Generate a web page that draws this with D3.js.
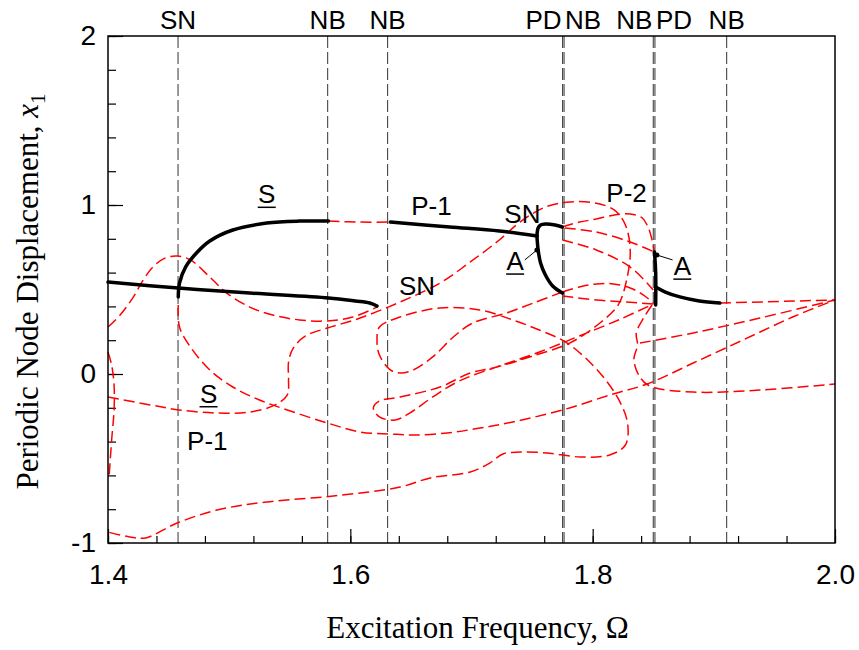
<!DOCTYPE html>
<html>
<head>
<meta charset="utf-8">
<script src="https://cdn.jsdelivr.net/npm/d3@7"></script>
<style>
  body { margin: 0; background: #fff; }
  .tick text { font-family: "Liberation Sans", Arial, sans-serif; font-size: 28px; fill: #000; }
  .lbl { font-family: "Liberation Sans", Arial, sans-serif; font-size: 26px; fill: #000; }
  .title { font-family: "Liberation Serif", "Times New Roman", serif; font-size: 31px; fill: #000; }
</style>
</head>
<body>
<div id="chart"></div>
<script>
// bifurcation lines along the top
const bifOmega = [1.4578, 1.5813, 1.6308, 1.7752, 1.7764, 1.8500, 1.8514, 1.9106];
const bifLabels = ["SN", "NB", "NB", "PD", "NB", "NB", "PD", "NB"];
const bifAnchor = ["middle", "middle", "middle", "end", "start", "end", "start", "middle"];

const xTicksMajor = [1.4, 1.6, 1.8, 2.0];
const yTicksMajor = [-1, 0, 1, 2];

// stable branches (solid black)
const stableLowP1 = [[1.400, 0.544], [1.458, 0.509], [1.517, 0.479], [1.582, 0.450], [1.604, 0.432], [1.616, 0.420], [1.622, 0.402]];
const stableS = [[1.458, 0.456], [1.459, 0.538], [1.464, 0.633], [1.473, 0.716], [1.484, 0.787], [1.503, 0.852], [1.531, 0.893], [1.558, 0.905], [1.582, 0.905]];
const stableP1 = [[1.633, 0.899], [1.682, 0.870], [1.723, 0.846], [1.754, 0.817]];
const stableHook = [[1.754, 0.817], [1.755, 0.864], [1.757, 0.882], [1.761, 0.888], [1.769, 0.882], [1.775, 0.870]];
const stableA1 = [[1.754, 0.817], [1.755, 0.734], [1.757, 0.657], [1.761, 0.586], [1.767, 0.521], [1.775, 0.479]];
const stableA2 = [[1.851, 0.722], [1.852, 0.600], [1.852, 0.408]];
const stableP1right = [[1.852, 0.515], [1.860, 0.485], [1.872, 0.456], [1.888, 0.432], [1.905, 0.420]];

// unstable branches (red dashed)
const unstHump = [[1.400, 0.278], [1.410, 0.349], [1.421, 0.456], [1.429, 0.556], [1.437, 0.633], [1.447, 0.686], [1.457, 0.698], [1.468, 0.675], [1.484, 0.574], [1.498, 0.479], [1.517, 0.396], [1.536, 0.349], [1.558, 0.320], [1.581, 0.314], [1.602, 0.337], [1.622, 0.396]];
const unstLowS = [[1.400, -0.136], [1.435, -0.183], [1.459, -0.213], [1.490, -0.231], [1.517, -0.225], [1.538, -0.183], [1.548, -0.124], [1.549, -0.036], [1.549, 0.071], [1.553, 0.154], [1.563, 0.225], [1.581, 0.272], [1.608, 0.331], [1.641, 0.426], [1.674, 0.538], [1.699, 0.663], [1.723, 0.793], [1.740, 0.899], [1.761, 0.988], [1.781, 1.018], [1.802, 1.012], [1.818, 0.970], [1.827, 0.882], [1.831, 0.734], [1.828, 0.556], [1.821, 0.408], [1.806, 0.302], [1.781, 0.183], [1.748, 0.101], [1.721, 0.041], [1.699, 0.006], [1.674, -0.077], [1.641, -0.136], [1.624, -0.160], [1.619, -0.201], [1.624, -0.254], [1.637, -0.272], [1.649, -0.231], [1.668, -0.136], [1.690, -0.041], [1.723, 0.047], [1.756, 0.130], [1.789, 0.225], [1.823, 0.325], [1.850, 0.414]];
const unstLoop = [[1.775, 0.485], [1.751, 0.420], [1.729, 0.361], [1.701, 0.302], [1.685, 0.219], [1.668, 0.101], [1.652, 0.024], [1.641, 0.006], [1.633, 0.024], [1.624, 0.112], [1.622, 0.201], [1.624, 0.278], [1.641, 0.337], [1.674, 0.391], [1.707, 0.379], [1.734, 0.320], [1.756, 0.260], [1.779, 0.183], [1.806, 0.006], [1.823, -0.172], [1.829, -0.302], [1.827, -0.420], [1.814, -0.479], [1.790, -0.491], [1.762, -0.467], [1.740, -0.462], [1.726, -0.473], [1.715, -0.527], [1.699, -0.580], [1.666, -0.615], [1.641, -0.669], [1.586, -0.722], [1.531, -0.757], [1.490, -0.805], [1.457, -0.882], [1.431, -0.970], [1.418, -0.964], [1.400, -0.935]];
const unstUpS = [[1.458, 0.408], [1.459, 0.278], [1.468, 0.160], [1.484, 0.024], [1.503, -0.077], [1.525, -0.154], [1.548, -0.213], [1.581, -0.290], [1.608, -0.343], [1.633, -0.355], [1.652, -0.361], [1.680, -0.349], [1.707, -0.320], [1.734, -0.284], [1.775, -0.213], [1.817, -0.118], [1.845, -0.059], [1.883, 0.065], [1.924, 0.201], [1.965, 0.337], [2.000, 0.438]];
const unstNB = [[1.582, 0.905], [1.608, 0.899], [1.633, 0.899]];
const unstRight = [[1.905, 0.420], [2.000, 0.438]];
const unstP2a = [[1.849, 0.408], [1.842, 0.331], [1.836, 0.243], [1.837, 0.172], [1.834, 0.083], [1.839, -0.018], [1.847, -0.071], [1.883, -0.107], [1.938, -0.095], [2.000, -0.059]];
const unstP2b = [[1.839, 0.183], [1.883, 0.243], [1.938, 0.331], [2.000, 0.438]];
const unstP2c = [[1.775, 0.462], [1.803, 0.438], [1.828, 0.426], [1.850, 0.414]];
const unstP2d = [[1.775, 0.485], [1.789, 0.515], [1.803, 0.533], [1.817, 0.533], [1.831, 0.509], [1.842, 0.467], [1.850, 0.420]];
const unstP2e = [[1.775, 0.870], [1.789, 0.899], [1.803, 0.917], [1.818, 0.941], [1.831, 0.947], [1.841, 0.923], [1.846, 0.864], [1.849, 0.793], [1.851, 0.722]];
const unstP2f = [[1.777, 0.864], [1.803, 0.840], [1.831, 0.781], [1.851, 0.722]];
const unstP2g = [[1.775, 0.793], [1.803, 0.734], [1.831, 0.633], [1.850, 0.497]];
const unstEdge = [[1.400, 0.130], [1.403, 0.053], [1.405, -0.065], [1.405, -0.213], [1.403, -0.391], [1.401, -0.598]];

const stableCurves = [stableLowP1, stableS, stableP1, stableHook, stableA1, stableA2, stableP1right];
const unstableCurves = [unstHump, unstLowS, unstLoop, unstUpS, unstNB, unstRight, unstP2a, unstP2b, unstP2c, unstP2d, unstP2e, unstP2f, unstP2g, unstEdge];

// text labels inside the plot
const branchLabels = [
  {t: "S", o: 1.531, v: 1.01, u: true},
  {t: "P-1", o: 1.667, v: 0.94, u: false},
  {t: "SN", o: 1.742, v: 0.895, u: false},
  {t: "SN", o: 1.655, v: 0.47, u: false},
  {t: "A", o: 1.736, v: 0.615, u: true},
  {t: "P-2", o: 1.828, v: 1.015, u: false},
  {t: "A", o: 1.874, v: 0.585, u: true},
  {t: "S", o: 1.483, v: -0.17, u: true},
  {t: "P-1", o: 1.482, v: -0.45, u: false}
];
// pointers from "A" labels to the branch
const pointers = [
  [[1.744, 0.675], [1.754, 0.734]],
  [[1.866, 0.675], [1.853, 0.704]]
];

const margin = {top: 36, right: 24, bottom: 107, left: 108};
const width = 859 - margin.left - margin.right;
const height = 650 - margin.top - margin.bottom;

const svg = d3.select('#chart').append('svg')
    .attr('width', 859)
    .attr('height', 650)
  .append('g')
    .attr('transform', `translate(${margin.left},${margin.top})`);

const x = d3.scaleLinear().domain([1.4, 2.0]).range([0, width]);
const y = d3.scaleLinear().domain([-1, 2]).range([height, 0]);

// minor + major ticks, pointing inward
svg.append('g')
    .attr('transform', `translate(0,${height})`)
    .call(d3.axisBottom(x).tickValues(d3.range(0, 16).map(i => 1.4 + i * 0.04)).tickSize(-7).tickFormat(''))
    .call(g => g.select('.domain').remove());
svg.append('g')
    .attr('transform', `translate(0,${height})`)
    .call(d3.axisBottom(x).tickValues(xTicksMajor).tickSize(-14).tickPadding(21).tickFormat(d3.format('.1f')))
    .call(g => g.select('.domain').remove());
svg.append('g')
    .call(d3.axisLeft(y).tickValues(d3.range(0, 16).map(i => -1 + i * 0.2)).tickSize(-8).tickFormat(''))
    .call(g => g.select('.domain').remove());
svg.append('g')
    .call(d3.axisLeft(y).tickValues(yTicksMajor).tickSize(-15).tickPadding(12).tickFormat(d => String(d)))
    .call(g => g.select('.domain').remove());
svg.selectAll('.tick line').attr('stroke', '#000').attr('stroke-width', 1.2);

// bifurcation lines
svg.append('g').selectAll('line')
  .data(bifOmega)
  .join('line')
    .attr('x1', d => x(d)).attr('x2', d => x(d))
    .attr('y1', 0).attr('y2', height)
    .attr('stroke', '#333')
    .attr('stroke-width', 1)
    .attr('stroke-dasharray', '12,4');

svg.append('g').selectAll('text')
  .data(bifOmega)
  .join('text')
    .attr('class', 'lbl')
    .attr('x', (d, i) => x(d) + (bifAnchor[i] === 'end' ? -1 : bifAnchor[i] === 'start' ? 1 : 0))
    .attr('y', -7)
    .attr('text-anchor', (d, i) => bifAnchor[i])
    .text((d, i) => bifLabels[i]);

const line = d3.line().x(d => x(d[0])).y(d => y(d[1])).curve(d3.curveCatmullRom.alpha(0.5));

svg.append('g').selectAll('path')
  .data(unstableCurves)
  .join('path')
    .attr('d', line)
    .attr('fill', 'none')
    .attr('stroke', '#ff0000')
    .attr('stroke-width', 1.5)
    .attr('stroke-dasharray', '11,5');

svg.append('g').selectAll('path')
  .data(stableCurves)
  .join('path')
    .attr('d', line)
    .attr('fill', 'none')
    .attr('stroke', '#000')
    .attr('stroke-width', 3.5)
    .attr('stroke-linecap', 'round');

// pointers
svg.append('g').selectAll('line')
  .data(pointers)
  .join('line')
    .attr('x1', d => x(d[0][0])).attr('y1', d => y(d[0][1]))
    .attr('x2', d => x(d[1][0])).attr('y2', d => y(d[1][1]))
    .attr('stroke', '#000').attr('stroke-width', 1);
svg.append('g').selectAll('circle')
  .data(pointers)
  .join('circle')
    .attr('cx', d => x(d[1][0])).attr('cy', d => y(d[1][1]))
    .attr('r', 2.5).attr('fill', '#000');

const lab = svg.append('g').selectAll('g')
  .data(branchLabels)
  .join('g')
    .attr('transform', d => `translate(${x(d.o)},${y(d.v)})`);
lab.append('text')
    .attr('class', 'lbl')
    .attr('text-anchor', 'middle')
    .text(d => d.t);
lab.filter(d => d.u).append('line')
    .attr('x1', -9).attr('x2', 9)
    .attr('y1', 4).attr('y2', 4)
    .attr('stroke', '#000').attr('stroke-width', 1.5);

// frame
svg.append('rect')
    .attr('width', width).attr('height', height)
    .attr('fill', 'none').attr('stroke', '#000').attr('stroke-width', 1.5);

// axis titles
svg.append('text')
    .attr('class', 'title')
    .attr('x', width / 2 + 6)
    .attr('y', height + 95)
    .attr('text-anchor', 'middle')
    .text('Excitation Frequency, \u03A9');

const yt = svg.append('text')
    .attr('class', 'title')
    .attr('transform', `translate(${-70},${height / 2 + 2}) rotate(-90)`)
    .attr('text-anchor', 'middle');
yt.append('tspan').text('Periodic Node Displacement, ');
yt.append('tspan').attr('font-style', 'italic').text('x');
yt.append('tspan').attr('font-size', '21px').attr('dy', 7).text('1');
</script>
</body>
</html>
